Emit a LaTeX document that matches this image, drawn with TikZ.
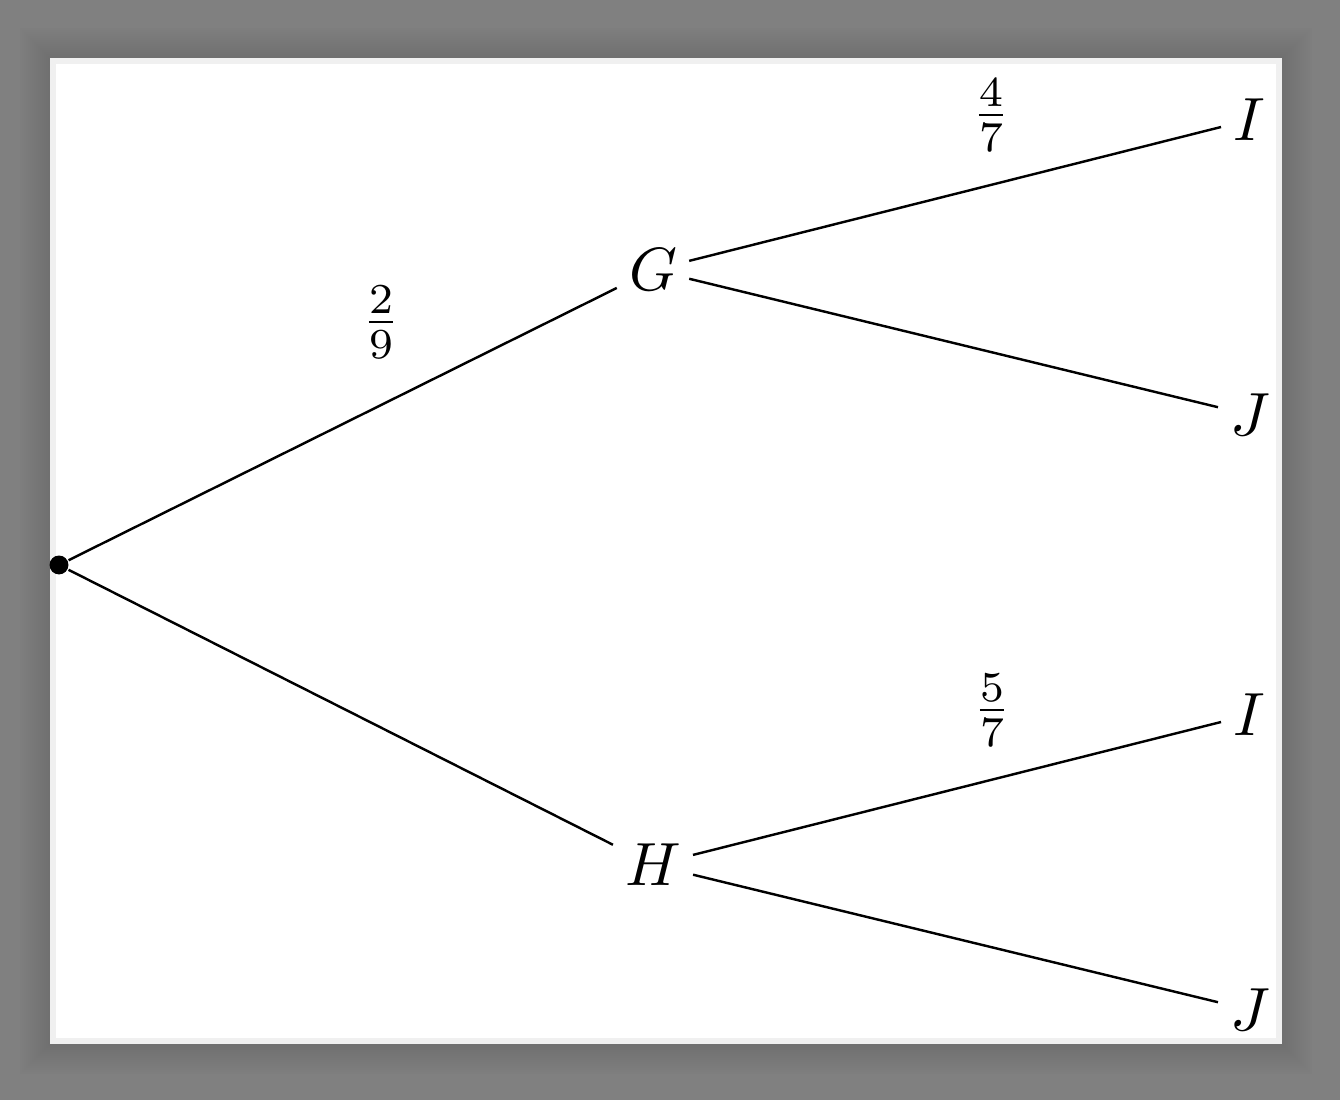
\documentclass[tikz,border=0pt]{standalone}
\begin{document}
\definecolor{bggray}{HTML}{808080}
\definecolor{pageedge}{HTML}{F0F0F0}
\begin{tikzpicture}[x=0.16393pt,y=-0.16393pt,
  letter/.style={inner sep=1.8pt, font=\fontsize{10}{12}\selectfont},
  prob/.style={inner sep=0pt, font=\fontsize{10}{12}\selectfont},
  rootdot/.style={circle, fill=black, inner sep=0pt, minimum size=3.1pt},
  branch/.style={draw=black, line width=0.4pt}]
\useasboundingbox (0,0) rectangle (1340,1100);
\fill[bggray] (0,0) rectangle (1340,1100);
\foreach \i in {1,...,15}
  \fill[black, opacity=0.008] (50-\i*2,58-\i*2) rectangle (1282+\i*2,1044+\i*2);
\fill[pageedge] (50,58) rectangle (1282,1044);
\fill[white] (56,64) rectangle (1276,1038);
\node[rootdot] (r) at (59,565) {};
\node[letter] (G) at (653,270) {$G$};
\node[letter] (H) at (653,865) {$H$};
\node[letter] (GI) at (1249,120) {$I$};
\node[letter] (GJ) at (1250,415) {$J$};
\node[letter] (HI) at (1249,715) {$I$};
\node[letter] (HJ) at (1250,1010) {$J$};
\draw[branch] (r) -- (G);
\draw[branch] (r) -- (H);
\draw[branch] (G) -- (GI);
\draw[branch] (G) -- (GJ);
\draw[branch] (H) -- (HI);
\draw[branch] (H) -- (HJ);
\node[prob] (p1) at (381,322) {$\frac{2}{9}$};
\node[prob] (p2) at (991,115) {$\frac{4}{7}$};
\node[prob] (p3) at (992,710) {$\frac{5}{7}$};
\end{tikzpicture}
\end{document}
